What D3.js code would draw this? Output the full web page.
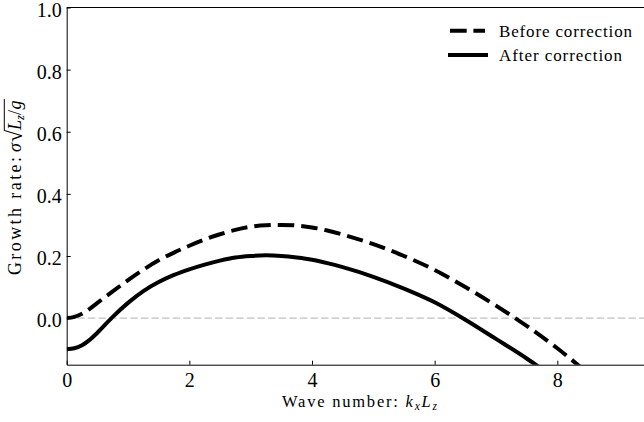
<!DOCTYPE html>
<html>
<head>
<meta charset="utf-8">
<script src="https://cdn.jsdelivr.net/npm/d3@7"></script>
<style>
  html, body { margin: 0; padding: 0; background: #fff; }
  svg { display: block; }
  text { font-family: "Liberation Serif", "DejaVu Serif", serif; fill: #000; white-space: pre; }
</style>
</head>
<body>
<svg id="chart" width="644" height="422"></svg>
<script>
// Dimensionless wave number k_x L_z
const waveNumber = [0, 0.125, 0.25, 0.375, 0.5, 0.75, 1.0, 1.25, 1.5, 1.75, 2.0, 2.25, 2.5, 2.75, 3.0, 3.25, 3.5, 3.75, 4.0, 4.25, 4.5, 5.0, 5.5, 6.0, 6.5, 7.0, 7.5, 8.0, 8.5];
// Growth rate sigma*sqrt(L_z/g) before the correction
const growthBefore = [0.000, 0.004, 0.014, 0.030, 0.049, 0.086, 0.122, 0.156, 0.186, 0.211, 0.233, 0.253, 0.270, 0.284, 0.294, 0.299, 0.300, 0.298, 0.292, 0.282, 0.269, 0.238, 0.200, 0.155, 0.100, 0.040, -0.025, -0.097, -0.178];
// Growth rate after the correction
const growthAfter = [-0.100, -0.097, -0.087, -0.070, -0.047, 0.004, 0.049, 0.087, 0.116, 0.139, 0.157, 0.172, 0.185, 0.195, 0.200, 0.202, 0.200, 0.195, 0.188, 0.177, 0.164, 0.133, 0.095, 0.051, -0.005, -0.067, -0.130, -0.200, -0.280];

const xTicks = [0, 2, 4, 6, 8];
const yTicks = [0.0, 0.2, 0.4, 0.6, 0.8, 1.0];
const seriesNames = ["Before correction", "After correction"];

const svg = d3.select("#chart");
const plotLeft = 66.7, plotRight = 645, plotTop = 7.5, plotBottom = 364.7;

const x = d3.scaleLinear().domain([0, 9.43]).range([plotLeft, plotRight]);
const y = d3.scaleLinear().domain([-0.15, 1.0]).range([plotBottom, plotTop]);

svg.append("defs").append("clipPath").attr("id", "plotclip")
  .append("rect").attr("x", plotLeft).attr("y", plotTop)
  .attr("width", plotRight - plotLeft).attr("height", plotBottom - plotTop);

const plot = svg.append("g").attr("clip-path", "url(#plotclip)");

// zero reference line
plot.append("line")
  .attr("x1", plotLeft).attr("x2", plotRight)
  .attr("y1", y(0)).attr("y2", y(0))
  .attr("stroke", "#b0b0b0").attr("stroke-width", 1)
  .attr("stroke-dasharray", "7.4,3.2");

const line = d3.line()
  .x(d => x(d[0])).y(d => y(d[1]))
  .curve(d3.curveMonotoneX);

plot.append("path")
  .datum(waveNumber.map((k, i) => [k, growthBefore[i]]))
  .attr("d", line).attr("fill", "none")
  .attr("stroke", "#000").attr("stroke-width", 4)
  .attr("stroke-dasharray", "16.5,7");

plot.append("path")
  .datum(waveNumber.map((k, i) => [k, growthAfter[i]]))
  .attr("d", line).attr("fill", "none")
  .attr("stroke", "#000").attr("stroke-width", 4);

// Axes with inward ticks
const xAxis = d3.axisBottom(x).tickValues(xTicks).tickSizeInner(-4).tickSizeOuter(0).tickPadding(8)
  .tickFormat(d3.format("d"));
const gx = svg.append("g").attr("transform", `translate(0,${plotBottom})`).call(xAxis);
const yAxis = d3.axisLeft(y).tickValues(yTicks).tickSizeInner(-4).tickSizeOuter(0).tickPadding(5)
  .tickFormat(d3.format(".1f"));
const gy = svg.append("g").attr("transform", `translate(${plotLeft},0)`).call(yAxis);

[gx, gy].forEach(g => {
  g.select(".domain").attr("stroke", "#000").attr("stroke-width", 1);
  g.selectAll(".tick line").attr("stroke", "#000").attr("stroke-width", 1);
  g.selectAll(".tick text").attr("font-family", "Liberation Serif, serif").attr("font-size", 20).attr("fill", "#000");
});
gy.selectAll(".tick text").attr("dy", "0.43em");

// top spine
svg.append("line").attr("x1", plotLeft).attr("x2", plotRight)
  .attr("y1", plotTop).attr("y2", plotTop).attr("stroke", "#000").attr("stroke-width", 1);

// x-axis label
const xl = svg.append("text").attr("x", 359.5).attr("y", 407)
  .attr("text-anchor", "middle").attr("font-size", 16.5)
  .attr("textLength", 155).attr("lengthAdjust", "spacing");
xl.append("tspan").text("Wave number: ");
xl.append("tspan").attr("font-style", "italic").text("k");
xl.append("tspan").attr("font-style", "italic").attr("font-size", 11.5).attr("dy", 3).text("x");
xl.append("tspan").attr("font-style", "italic").attr("dy", -3).text("L");
xl.append("tspan").attr("font-style", "italic").attr("font-size", 11.5).attr("dy", 3).text("z");

// y-axis label with a radical
const labelLength = 176;
const yl = svg.append("g").attr("transform", `translate(20.5,${(plotTop + plotBottom) / 2 + 1}) rotate(-90)`);
let cursor = 0;
function addPart(txt, opts) {
  const t = yl.append("text").attr("x", cursor).attr("y", opts.dy || 0)
    .attr("font-size", opts.size || 18)
    .attr("font-style", opts.italic ? "italic" : "normal").text(txt);
  const w = t.node().getComputedTextLength();
  cursor += w + (opts.gap || 0);
  return t;
}
const words = addPart("Growth rate:", { gap: 5 });
const wordsEnd = cursor;
addPart("σ", { italic: true, gap: 1 });
addPart("√", { size: 22, dy: 1.5 });
const radicandStart = cursor - 1;
addPart("L", { italic: true });
addPart("z", { italic: true, size: 12.5, dy: 3.5 });
addPart("/", { gap: 0.5 });
addPart("g", { italic: true, gap: 1.5 });
// widen the words so the whole label spans labelLength
const extra = Math.max(0, labelLength - cursor);
const wordsWidth = wordsEnd - 5;
words.attr("textLength", wordsWidth + extra).attr("lengthAdjust", "spacing");
yl.selectAll("text").filter(function () { return this !== words.node(); })
  .attr("x", function () { return +d3.select(this).attr("x") + extra; });
const total = cursor + extra;
// overbar of the radical
yl.append("line").attr("x1", radicandStart + extra).attr("x2", total)
  .attr("y1", -16.2).attr("y2", -16.2).attr("stroke", "#000").attr("stroke-width", 1);
// center the label on the plot height
yl.selectAll("*").attr("transform", `translate(${-total / 2},0)`);

// Legend
const legend = svg.append("g");
const legendRows = [
  { name: seriesNames[0], dash: "16.7,6.7", x1: 450, x2: 485, y: 30.7, len: 133 },
  { name: seriesNames[1], dash: null, x1: 448, x2: 488, y: 55, len: 123 }
];
legendRows.forEach(r => {
  legend.append("line").attr("x1", r.x1).attr("x2", r.x2)
    .attr("y1", r.y).attr("y2", r.y)
    .attr("stroke", "#000").attr("stroke-width", 4)
    .attr("stroke-dasharray", r.dash);
  legend.append("text").attr("x", 499).attr("y", r.y + 5.8)
    .attr("font-size", 17)
    .attr("textLength", r.len).attr("lengthAdjust", "spacing")
    .text(r.name);
});
</script>
</body>
</html>
